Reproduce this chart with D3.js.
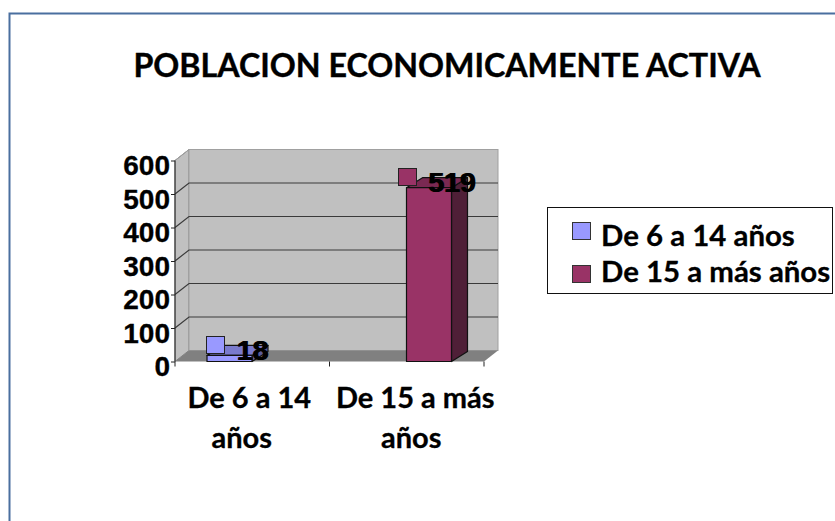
<!DOCTYPE html>
<html>
<head>
<meta charset="utf-8">
<script src="https://cdn.jsdelivr.net/npm/d3@7"></script>
<style>
  html, body { margin: 0; padding: 0; background: #fff; }
  svg { display: block; }
</style>
</head>
<body>
<svg id="chart" width="835" height="521"></svg>
<script>
var titleText = 'POBLACION ECONOMICAMENTE ACTIVA';
var categories = ['De 6 a 14 años', 'De 15 a más años'];
var categoryLines = [['De 6 a 14', 'años'], ['De 15 a más', 'años']];
var seriesNames = ['De 6 a 14 años', 'De 15 a más años'];
var series1Values = [18, null];
var series2Values = [null, 519];
var yTicks = [0, 100, 200, 300, 400, 500, 600];
var seriesFill = ['#9999ff', '#993366'];
var seriesTop = ['#7a7acc', '#7a2952'];
var seriesSide = ['#5c5c99', '#4f1f37'];

var LATO = 'Lato, sans-serif';
var ARIAL = '"Liberation Sans", Arial, sans-serif';
var svg = d3.select('#chart');

// page frame around the pasted chart
svg.append('path')
  .attr('d', 'M835,13.5H9.5V521')
  .attr('fill', 'none')
  .attr('stroke', '#4a6f9f')
  .attr('stroke-width', 2);

svg.append('text')
  .attr('x', 447).attr('y', 76.5)
  .attr('text-anchor', 'middle')
  .attr('font-family', LATO).attr('font-weight', 700).attr('font-size', 32.2)
  .attr('stroke', '#000').attr('stroke-width', 0.4)
  .text(titleText);

// plot geometry: front floor edge plus depth offset to the back wall
var x0 = d3.scaleBand().domain(categories).range([175, 484]);
var x1 = d3.scaleBand().domain([0, 1]).range([32, 122]);
var y = d3.scaleLinear().domain([0, 600]).range([361.5, 160.5]);
var dx = 14, dy = -11;
var barDx = 16, barDy = -10;
var xL = 175, xR = 484, yB = y(0), yT = y(600);

// side wall, back wall, floor
svg.append('path')
  .attr('d', 'M' + xL + ',' + yB + 'V' + yT + 'l' + dx + ',' + dy + 'V' + (yB + dy) + 'Z')
  .attr('fill', '#c0c0c0').attr('stroke', '#808080');
svg.append('rect')
  .attr('x', xL + dx).attr('y', yT + dy)
  .attr('width', xR - xL).attr('height', yB - yT)
  .attr('fill', '#c0c0c0').attr('stroke', '#a0a0a0');
svg.append('path')
  .attr('d', 'M' + xL + ',' + yB + 'H' + xR + 'l' + dx + ',' + dy + 'H' + (xL + dx) + 'Z')
  .attr('fill', '#808080');

// gridlines wrap from the side wall onto the back wall
yTicks.slice(1).forEach(function (t) {
  var yy = y(t);
  svg.append('path')
    .attr('d', 'M' + xL + ',' + yy + 'l' + dx + ',' + dy + 'H' + (xR + dx))
    .attr('fill', 'none')
    .attr('stroke', t === 600 ? '#a0a0a0' : '#3a3a3a')
    .attr('stroke-width', t === 600 ? 1 : 1.2);
});

// axes
var yAxis = d3.axisLeft(y).tickValues(yTicks).tickSize(4).tickPadding(1);
var gy = svg.append('g').attr('transform', 'translate(' + xL + ',0)').call(yAxis);
gy.select('.domain').attr('stroke', '#222').attr('d', 'M0,' + yT + 'V' + yB);
gy.selectAll('line').attr('stroke', '#222');
gy.selectAll('text')
  .attr('transform', 'translate(0,5.5)')
  .attr('font-family', ARIAL).attr('font-weight', 700).attr('font-size', 28)
  .attr('stroke', '#000').attr('stroke-width', 0.3)
  .attr('fill', '#000');

var xAxis = d3.axisBottom(x0).tickValues([]).tickSize(0);
var gx = svg.append('g').attr('transform', 'translate(0,' + yB + ')').call(xAxis);
gx.select('.domain').remove();
[xL, x0(categories[1]), xR].forEach(function (px) {
  gx.append('line').attr('x1', px).attr('x2', px).attr('y1', 0).attr('y2', 5).attr('stroke', '#222');
});
// the source wraps and centres these lines unevenly, so each line has its own nudge
var lineNudge = [[-3, -10.5], [8.5, 4.5]];
categories.forEach(function (c, i) {
  var t = gx.append('text')
    .attr('text-anchor', 'middle')
    .attr('font-family', LATO).attr('font-weight', 700).attr('font-size', 29)
    .attr('stroke', '#000').attr('stroke-width', 0.3)
    .attr('fill', '#000');
  categoryLines[i].forEach(function (line, j) {
    t.append('tspan')
      .attr('x', x0(c) + x0.bandwidth() / 2 + lineNudge[i][j])
      .attr('y', 46 + j * 40)
      .text(line);
  });
});

// bars
[series1Values, series2Values].forEach(function (vals, s) {
  vals.forEach(function (v, i) {
    if (v === null) return;
    var bx = x0(categories[i]) + x1(s);
    var bw = x1.bandwidth();
    var by = y(v);
    var g = svg.append('g').attr('stroke', '#111').attr('stroke-width', 1.2).attr('stroke-linejoin', 'round');
    g.append('path')
      .attr('d', 'M' + (bx + bw) + ',' + by + 'l' + barDx + ',' + barDy + 'V' + (yB + barDy) + 'l' + (-barDx) + ',' + (-barDy) + 'Z')
      .attr('fill', seriesSide[s]);
    g.append('path')
      .attr('d', 'M' + bx + ',' + by + 'l' + barDx + ',' + barDy + 'h' + bw + 'l' + (-barDx) + ',' + (-barDy) + 'Z')
      .attr('fill', seriesTop[s]);
    g.append('rect')
      .attr('x', bx).attr('y', by).attr('width', bw).attr('height', yB - by)
      .attr('fill', seriesFill[s]);

    // data label centred on the bar's right edge, drawn twice like the source,
    // with its legend key 30px left of the text
    var labels = [0, 1.2].map(function (k) {
      return svg.append('text')
        .attr('x', bx + bw + k).attr('y', by + 4.5)
        .attr('text-anchor', 'middle')
        .attr('font-family', ARIAL).attr('font-weight', 700).attr('font-size', 28.5)
        .text(v);
    });
    var labelWidth = labels[0].node().getComputedTextLength();
    svg.append('rect')
      .attr('x', Math.round(bx + bw - labelWidth / 2 - 30) + 0.5).attr('y', Math.round(by - 19.5) + 0.5)
      .attr('width', 18).attr('height', 17)
      .attr('fill', seriesFill[s]).attr('stroke', '#222');
  });
});

// legend
svg.append('rect')
  .attr('x', 547.5).attr('y', 207.5).attr('width', 285).attr('height', 86)
  .attr('fill', '#fff').attr('stroke', '#111');
seriesNames.forEach(function (name, i) {
  svg.append('rect')
    .attr('x', 572.5).attr('y', 222.5 + i * 43)
    .attr('width', 18).attr('height', 17)
    .attr('fill', seriesFill[i]).attr('stroke', '#333');
  svg.append('text')
    .attr('x', 601).attr('y', 245.5 + i * 36)
    .attr('font-family', LATO).attr('font-weight', 700).attr('font-size', 29.4)
    .attr('stroke', '#000').attr('stroke-width', 0.3)
    .text(name);
});
</script>
</body>
</html>
